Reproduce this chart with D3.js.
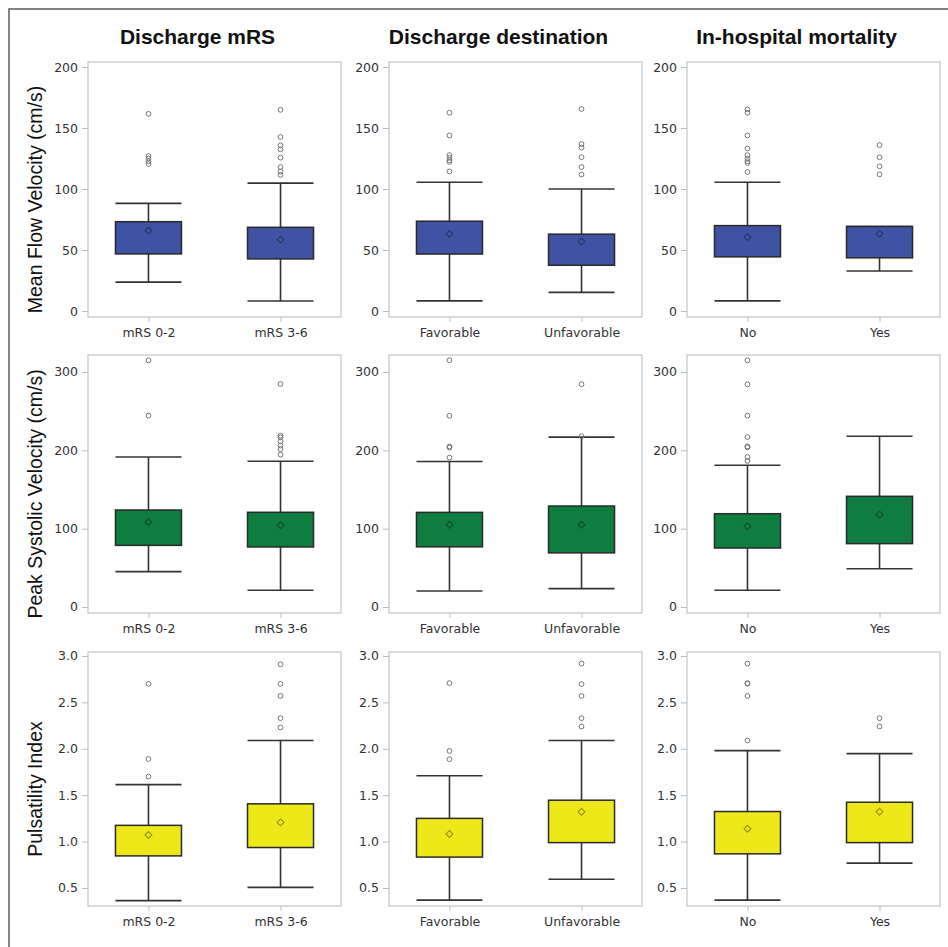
<!DOCTYPE html>
<html>
<head>
<meta charset="utf-8">
<script src="https://cdn.jsdelivr.net/npm/d3@7"></script>
<style>
  body { margin: 0; background: #fff; }
  svg { display: block; }
</style>
</head>
<body>
<svg id="chart" width="948" height="947"></svg>
<script>
// Column / row labels
const columnTitles = ['Discharge mRS', 'Discharge destination', 'In-hospital mortality'];
const columnGroups = [['mRS 0-2', 'mRS 3-6'], ['Favorable', 'Unfavorable'], ['No', 'Yes']];
const rowTitles = ['Mean Flow Velocity (cm/s)', 'Peak Systolic Velocity (cm/s)', 'Pulsatility Index'];
const rowTicks = [[0, 50, 100, 150, 200], [0, 100, 200, 300], [0.5, 1.0, 1.5, 2.0, 2.5, 3.0]];

// Box stats per column, per group: [low whisker, Q1, Q3, high whisker, mean]
const mfvBoxes = [
  [[23.7, 46.8, 73.2, 88.2, 65.9], [8.2, 42.7, 68.6, 104.8, 58.5]],
  [[8.3, 46.7, 73.6, 105.6, 63.3], [15.3, 37.5, 63.0, 100.0, 56.9]],
  [[8.3, 44.4, 70.0, 105.6, 60.6], [32.8, 43.6, 69.3, 69.3, 63.3]]
];
const mfvOutliers = [
  [[161.6, 127.0, 125.0, 122.7, 120.5], [164.9, 142.6, 135.8, 132.5, 125.7, 118.0, 114.3, 111.6]],
  [[162.5, 143.9, 127.8, 125.6, 123.6, 122.2, 114.4], [165.6, 136.9, 133.9, 126.1, 118.0, 111.9]],
  [[165.3, 162.5, 143.9, 133.3, 127.8, 125.0, 122.8, 121.4, 113.9], [136.0, 126.0, 118.6, 112.0]]
];

const psvBoxes = [
  [[45.1, 78.7, 123.8, 191.5, 108.5], [21.3, 76.6, 120.9, 186.0, 104.3]],
  [[20.5, 76.8, 120.8, 185.7, 105.0], [23.5, 69.1, 128.9, 216.8, 105.0]],
  [[21.3, 75.3, 119.1, 180.9, 103.0], [48.9, 80.9, 141.3, 217.9, 117.9]]
];
const psvOutliers = [
  [[314.9, 244.3], [284.7, 218.7, 216.6, 211.5, 206.0, 201.7, 194.5]],
  [[315.0, 244.1, 204.9, 203.6, 190.8], [284.3, 218.1]],
  [[314.9, 284.3, 244.3, 217.0, 205.1, 203.8, 191.5, 186.4], []]
];

const piBoxes = [
  [[0.364, 0.846, 1.175, 1.614, 1.071], [0.507, 0.936, 1.407, 2.09, 1.207]],
  [[0.369, 0.833, 1.25, 1.709, 1.082], [0.594, 0.989, 1.446, 2.09, 1.321]],
  [[0.369, 0.868, 1.324, 1.98, 1.139], [0.768, 0.989, 1.424, 1.948, 1.321]]
];
const piOutliers = [
  [[2.70, 1.89, 1.70], [2.91, 2.70, 2.57, 2.33, 2.23]],
  [[2.708, 1.977, 1.888], [2.918, 2.697, 2.569, 2.33, 2.24]],
  [[2.918, 2.708, 2.70, 2.569, 2.09], [2.33, 2.24]]
];

const rowBoxes = [mfvBoxes, psvBoxes, piBoxes];
const rowOutliers = [mfvOutliers, psvOutliers, piOutliers];
const rowFills = ['#3f52a3', '#0f7d3e', '#ede81a'];

// Layout
const panelLeft = [88, 389, 687];
const panelWidth = 253;
const rowTop = [62, 355, 652];
const rowBottom = [317, 613, 906];
const rowDomain = [[-4.9, 204.1], [-7.66, 321.7], [0.306, 3.043]];
const tickFont = '"DejaVu Sans", sans-serif';
const titleFont = '"Liberation Sans", Arial, sans-serif';

const svg = d3.select('#chart');

// Outer border (only top/left visible in the crop)
svg.append('rect')
  .attr('x', 9).attr('y', 9)
  .attr('width', 960).attr('height', 960)
  .attr('fill', 'none')
  .attr('stroke', '#666')
  .attr('stroke-width', 1.6);

// Column titles
columnTitles.forEach((t, c) => {
  svg.append('text')
    .attr('x', panelLeft[c] + panelWidth / 2 - 17)
    .attr('y', 44)
    .attr('text-anchor', 'middle')
    .attr('font-family', titleFont)
    .attr('font-weight', 'bold')
    .attr('font-size', '21px')
    .attr('fill', '#111')
    .text(t);
});

// Row titles
rowTitles.forEach((t, r) => {
  const cy = (rowTop[r] + rowBottom[r] + 20) / 2;
  svg.append('text')
    .attr('transform', `translate(42, ${cy}) rotate(-90)`)
    .attr('text-anchor', 'middle')
    .attr('font-family', titleFont)
    .attr('font-size', '19.5px')
    .attr('fill', '#111')
    .text(t);
});

rowTitles.forEach((_, r) => {
  const yScale = d3.scaleLinear()
    .domain(rowDomain[r])
    .range([rowBottom[r], rowTop[r]]);
  const fill = rowFills[r];
  const meanColor = d3.color(fill).darker(1.3).formatHex();

  columnGroups.forEach((groups, c) => {
    const x0 = panelLeft[c];
    const xScale = d3.scalePoint()
      .domain(groups)
      .range([x0, x0 + panelWidth])
      .padding(0.458);
    const boxW = xScale.step() * 0.5;

    const g = svg.append('g').attr('class', `panel r${r} c${c}`);

    // Frame
    g.append('rect')
      .attr('x', x0).attr('y', rowTop[r])
      .attr('width', panelWidth).attr('height', rowBottom[r] - rowTop[r])
      .attr('fill', 'none')
      .attr('stroke', '#c6cbd0')
      .attr('stroke-width', 1.3);

    // Y axis
    const yAxis = d3.axisLeft(yScale)
      .tickValues(rowTicks[r])
      .tickSize(6)
      .tickPadding(4)
      .tickFormat(r === 2 ? d3.format('.1f') : d3.format('d'));
    const yg = g.append('g').attr('transform', `translate(${x0},0)`).call(yAxis);
    yg.select('.domain').remove();
    yg.selectAll('line').attr('stroke', '#b8bdc2');
    yg.selectAll('text')
      .attr('font-family', tickFont)
      .attr('font-size', '12.5px')
      .attr('fill', '#333');

    // X axis
    const xAxis = d3.axisBottom(xScale).tickSize(5).tickPadding(6.5);
    const xg = g.append('g').attr('transform', `translate(0,${rowBottom[r]})`).call(xAxis);
    xg.select('.domain').remove();
    xg.selectAll('line').attr('stroke', '#b8bdc2');
    xg.selectAll('text')
      .attr('font-family', tickFont)
      .attr('font-size', '12.5px')
      .attr('fill', '#333');

    const boxes = groups.map((name, i) => ({ name, s: rowBoxes[r][c][i], out: rowOutliers[r][c][i] }));

    const bg = g.selectAll('g.box').data(boxes).join('g').attr('class', 'box');

    // Whisker stems
    bg.append('line')
      .attr('x1', d => xScale(d.name)).attr('x2', d => xScale(d.name))
      .attr('y1', d => yScale(d.s[0])).attr('y2', d => yScale(d.s[3]))
      .attr('stroke', '#333').attr('stroke-width', 1.6);

    // Whisker caps
    [0, 3].forEach(k => {
      bg.append('line')
        .attr('x1', d => xScale(d.name) - boxW / 2).attr('x2', d => xScale(d.name) + boxW / 2)
        .attr('y1', d => yScale(d.s[k])).attr('y2', d => yScale(d.s[k]))
        .attr('stroke', '#333').attr('stroke-width', 1.6);
    });

    // Box
    bg.append('rect')
      .attr('x', d => xScale(d.name) - boxW / 2)
      .attr('y', d => yScale(d.s[2]))
      .attr('width', boxW)
      .attr('height', d => yScale(d.s[1]) - yScale(d.s[2]))
      .attr('fill', fill)
      .attr('stroke', '#2a2a2a')
      .attr('stroke-width', 1.5);

    // Mean diamond
    bg.append('path')
      .attr('d', d3.symbol(d3.symbolDiamond2, 30))
      .attr('transform', d => `translate(${xScale(d.name)},${yScale(d.s[4])})`)
      .attr('fill', 'none')
      .attr('stroke', meanColor)
      .attr('stroke-width', 1.1);

    // Outliers
    bg.selectAll('circle')
      .data(d => d.out.map(v => ({ name: d.name, v })))
      .join('circle')
      .attr('cx', d => xScale(d.name))
      .attr('cy', d => yScale(d.v))
      .attr('r', 2.4)
      .attr('fill', 'none')
      .attr('stroke', '#777')
      .attr('stroke-width', 1);
  });
});
</script>
</body>
</html>
